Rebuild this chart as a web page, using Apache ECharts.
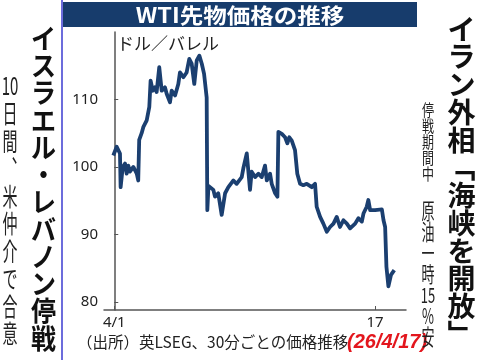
<!DOCTYPE html>
<html><head><meta charset="utf-8">
<script src="https://cdn.jsdelivr.net/npm/echarts@6/dist/echarts.min.js"></script>
<style>html,body{margin:0;padding:0;background:#fff}#c{width:480px;height:360px}</style>
</head><body><div id="c"></div>
<script>
// days from 4/1 (0 = 4/1, 16 = 4/17), WTI price in $/bbl
var days = [-0.06,0.15,0.25,0.35,0.39,0.52,0.66,0.76,0.86,0.96,1.17,1.38,1.47,1.53,1.68,1.78,1.99,2.15,2.23,2.36,2.50,2.60,2.76,2.91,3.11,3.22,3.42,3.52,3.73,3.93,4.03,4.24,4.44,4.60,4.75,4.91,5.06,5.22,5.37,5.51,5.67,5.71,5.78,5.87,6.08,6.18,6.38,6.59,6.80,7.00,7.31,7.51,7.82,7.92,8.13,8.33,8.43,8.64,8.84,9.05,9.25,9.36,9.56,9.66,9.87,10.01,10.07,10.28,10.48,10.62,10.74,10.89,11.09,11.23,11.40,11.60,11.81,12.12,12.32,12.42,12.63,12.83,13.04,13.24,13.45,13.65,13.85,14.06,14.27,14.47,14.78,14.98,15.19,15.29,15.49,15.59,15.70,16.00,16.42,16.52,16.62,16.70,16.82,16.98,17.18];
var prices = [101.7,103,102.9,102,97,100,100.5,99,100.2,99.3,100,99,98,104,105,105.9,106.9,108.9,112.8,111.3,111.8,111.1,114.8,111.3,111.8,110.8,109.6,111.3,110.6,112.3,114,113.3,114,116,115.3,112.3,115.8,116.5,115.3,113.8,110.3,93.6,97.2,97,96.6,95.6,96.1,92.9,96.1,97,98,97.5,98.5,99.8,102,96.6,99.3,98.5,99,98.5,100.2,98,99,97.5,96.1,95.6,105.2,104.9,104.4,103.5,104.4,103.9,102.5,99,97.5,97.3,97.5,97,97.5,94.1,92.6,91.6,90.4,91.1,91.6,92.6,91.1,92.1,91.6,90.9,91.6,92.4,91.9,93.1,94.1,95.1,93.6,93.6,93.7,92.1,91.1,85.2,82.3,84,84.7];
var yTicks = [80, 90, 100, 110];
var xTicks = [0, 16];
var xTickLabels = {0: '4/1', 16: '17'};
var title = 'WTI先物価格の推移';
var unitLabel = 'ドル／バレル';
var leftBig = ['イ','ス','ラ','エ','ル','・','レ','バ','ノ','ン','停','戦'];
var leftSmall = ['10','日','間','︑','米','仲','介','で','合','意'];
var rightBig = ['イ','ラ','ン','外','相','﹁','海','峡','を','開','放','﹂'];
var rightSmallA = ['停','戦','期','間','中'];
var rightSmallB = ['原','油','一','時','15','%','安'];
var sourceText = '（出所）英LSEG、30分ごとの価格推移';
var dateText = '(26/4/17)';

var data = days.map(function(d, i){ return [d, prices[i]]; });
var cjk = '"Noto Sans CJK JP", sans-serif';

function col(chars, x, y, size, lh, sy, weight, color) {
  return { type: 'text', x: x, y: y, scaleY: sy, z: 10,
    style: { text: chars.join('\n'), x: 0, y: 0, align: 'center', verticalAlign: 'top',
      font: weight + ' ' + size + 'px ' + cjk, lineHeight: lh, fill: color } };
}

var chart = echarts.init(document.getElementById('c'), null, {renderer: 'canvas'});
chart.setOption({
  animation: false,
  grid: { left: 104, right: 74, top: 32, bottom: 50 },
  xAxis: {
    type: 'value', min: -0.63, max: 17.9,
    splitLine: { show: false },
    axisLine: { lineStyle: { color: '#555', width: 1.5 } },
    axisTick: { inside: true, length: 4, customValues: xTicks, lineStyle: { color: '#555' } },
    axisLabel: { customValues: xTicks, formatter: function(v){ return xTickLabels[v]; },
      color: '#222', fontSize: 15, fontFamily: 'Noto Sans', margin: 5 }
  },
  yAxis: {
    type: 'value', min: 78.8, max: 120,
    splitLine: { show: false },
    axisLine: { show: true, lineStyle: { color: '#555', width: 1.5 } },
    axisTick: { show: true, inside: true, length: 4, customValues: yTicks, lineStyle: { color: '#555' } },
    axisLabel: { customValues: yTicks, color: '#222', fontSize: 15, fontFamily: 'Noto Sans', margin: 6 }
  },
  series: [{
    type: 'line', data: data, showSymbol: false, symbol: 'none',
    lineStyle: { color: '#1b3f70', width: 3.8, join: 'round' }
  }],
  graphic: [
    { type: 'line', shape: { x1: 62, y1: 0, x2: 62, y2: 360 }, style: { stroke: '#3b3bd0', lineWidth: 1.5 } },
    { type: 'rect', shape: { x: 63, y: 2, width: 354, height: 25 }, style: { fill: '#173c6c' } },
    { type: 'text', x: 240, y: 15, scaleX: 1.12, style: { text: title, x: 0, y: 0, align: 'center', verticalAlign: 'middle',
        font: 'bold 21px ' + cjk, fill: '#fff' } },
    { type: 'text', x: 117, y: 44, style: { text: unitLabel, align: 'left', verticalAlign: 'middle',
        font: 'normal 17px ' + cjk, fill: '#222' } },
    col(leftBig, 43.5, 25, 25, 25, 1.09, 'bold', '#111'),
    col(leftSmall, 10, 72, 15, 16.2, 1.7, 'normal', '#222'),
    col(rightBig, 461.5, 15, 28, 27.75, 1.0, 'bold', '#111'),
    col(rightSmallA, 428, 102, 12, 12, 1.33, 'normal', '#222'),
    col(rightSmallB, 428, 200, 13, 13, 1.62, 'normal', '#222'),
    { type: 'text', x: 77, y: 342, style: { text: sourceText, align: 'left', verticalAlign: 'middle',
        font: 'normal 15.5px ' + cjk, fill: '#222' } },
    { type: 'text', x: 347, y: 342, style: { text: dateText, align: 'left', verticalAlign: 'middle',
        font: 'italic bold 20px "Liberation Sans", sans-serif', fill: '#e3161d' } }
  ]
});
</script></body></html>
